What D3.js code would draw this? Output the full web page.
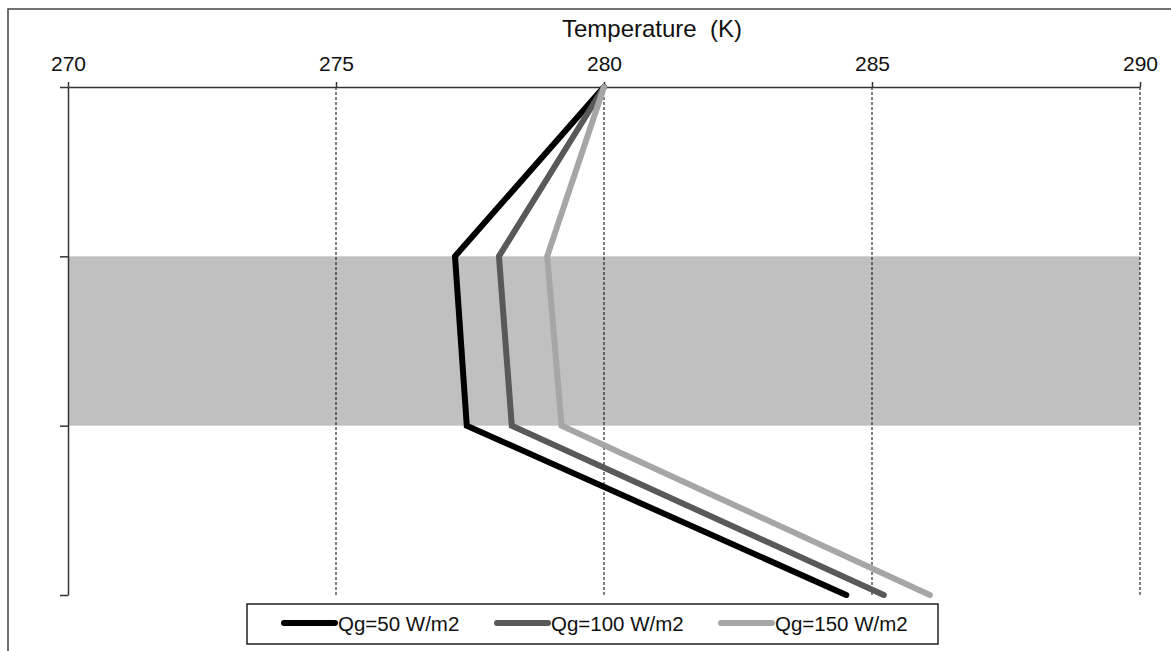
<!DOCTYPE html>
<html><head><meta charset="utf-8">
<script src="https://cdn.jsdelivr.net/npm/d3@7"></script>
<style>
body{margin:0;background:#fff;}
svg{display:block;font-family:"Liberation Sans",Arial,sans-serif;}
</style></head>
<body>
<svg id="chart" width="1171" height="651"></svg>
<script>
// Data
const levels = [0, 1, 2, 3];
const seriesNames = ["Qg=50 W/m2", "Qg=100 W/m2", "Qg=150 W/m2"];
const tempQg50  = [280, 277.22, 277.44, 284.52];
const tempQg100 = [280, 278.04, 278.28, 285.22];
const tempQg150 = [280, 278.94, 279.21, 286.08];
const xTicks = [270, 275, 280, 285, 290];
const band = [1, 2];
const seriesColors = ["#000000", "#595959", "#a6a6a6"];

const svg = d3.select("#chart");
const x = d3.scaleLinear().domain([270, 290]).range([68, 1140]);
const y = d3.scaleLinear().domain([0, 3]).range([87, 595]);

// outer frame
svg.append("rect").attr("x", 8).attr("y", 9).attr("width", 1300).attr("height", 800)
  .attr("fill", "none").attr("stroke", "#444").attr("stroke-width", 1.5);

// band
svg.append("rect").attr("x", x(270)).attr("y", y(band[0]))
  .attr("width", x(290) - x(270)).attr("height", y(band[1]) - y(band[0]))
  .attr("fill", "#c0c0c0");

// gridlines
svg.append("g").selectAll("line").data(xTicks.filter(d => d !== 270)).join("line")
  .attr("x1", d => x(d)).attr("x2", d => x(d))
  .attr("y1", y(0)).attr("y2", y(3))
  .attr("stroke", "#000").attr("stroke-width", 1).attr("stroke-dasharray", "3,2");

// axes
const xAxis = svg.append("g").attr("transform", `translate(0,${y(0)})`)
  .call(d3.axisTop(x).tickValues(xTicks).tickSize(5).tickSizeOuter(0).tickPadding(11));
xAxis.selectAll("text").attr("font-size", 21).attr("fill", "#111")
  .attr("font-family", "Liberation Sans, Arial, sans-serif");
xAxis.selectAll("path,line").attr("stroke", "#333").attr("stroke-width", 1.5);

const yAxis = svg.append("g").attr("transform", `translate(${x(270)},0)`)
  .call(d3.axisLeft(y).tickValues(levels).tickSize(8).tickSizeOuter(0).tickFormat(""));
yAxis.selectAll("path,line").attr("stroke", "#333").attr("stroke-width", 1.5);

// title
svg.append("text").attr("x", 652).attr("y", 37).attr("text-anchor", "middle")
  .attr("font-size", 24).attr("fill", "#111").style("white-space", "pre")
  .text("Temperature  (K)");

// lines
const allSeries = [tempQg50, tempQg100, tempQg150];
const line = d3.line().x(d => x(d.t)).y(d => y(d.l));
allSeries.forEach((s, i) => {
  svg.append("path")
    .datum(s.map((t, j) => ({t, l: levels[j]})))
    .attr("d", line).attr("fill", "none")
    .attr("stroke", seriesColors[i]).attr("stroke-width", 6)
    .attr("stroke-linecap", "round").attr("stroke-linejoin", "miter");
});

// legend
const lg = svg.append("g");
lg.append("rect").attr("x", 247).attr("y", 604).attr("width", 691).attr("height", 40)
  .attr("fill", "#fff").attr("stroke", "#222").attr("stroke-width", 1.5);
const legendX = [284, 497, 721];
seriesNames.forEach((n, i) => {
  lg.append("line").attr("x1", legendX[i]).attr("x2", legendX[i] + 51)
    .attr("y1", 623).attr("y2", 623)
    .attr("stroke", seriesColors[i]).attr("stroke-width", 6).attr("stroke-linecap", "round");
  lg.append("text").attr("x", legendX[i] + 54).attr("y", 631)
    .attr("font-size", 20.5).attr("fill", "#111").text(n);
});
</script>
</body></html>
